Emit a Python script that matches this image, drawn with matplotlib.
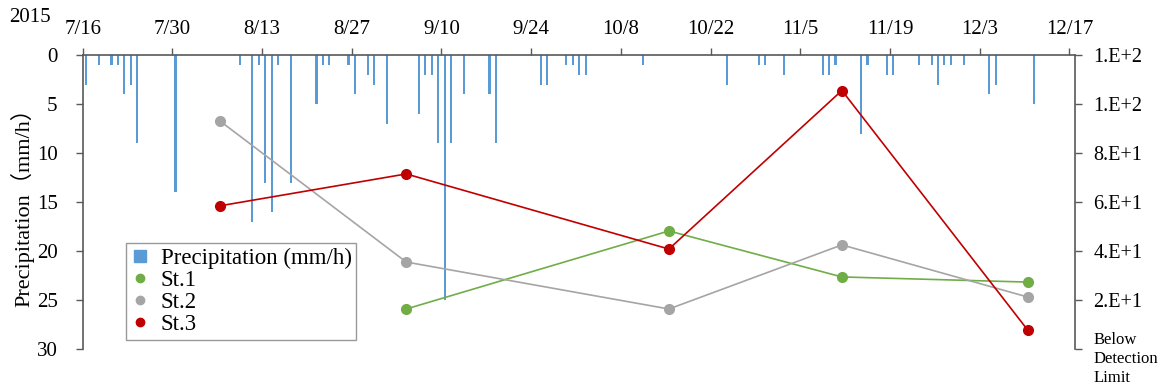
import numpy as np
import pandas as pd
import matplotlib
matplotlib.use("Agg")
import matplotlib.pyplot as plt
import matplotlib.dates as mdates
from matplotlib.ticker import FuncFormatter, MultipleLocator

plt.rcParams['font.family'] = ['Liberation Serif', 'Noto Sans CJK JP']

# precipitation (mm/h), daily
rain_dates = ['2015-07-16', '2015-07-18', '2015-07-20', '2015-07-21', '2015-07-22', '2015-07-23',
              '2015-07-24', '2015-07-30', '2015-08-09', '2015-08-11', '2015-08-12', '2015-08-13',
              '2015-08-14', '2015-08-15', '2015-08-17', '2015-08-21', '2015-08-22', '2015-08-23',
              '2015-08-26', '2015-08-27', '2015-08-29', '2015-08-30', '2015-09-01', '2015-09-06',
              '2015-09-07', '2015-09-08', '2015-09-09', '2015-09-10', '2015-09-11', '2015-09-13',
              '2015-09-17', '2015-09-18', '2015-09-25', '2015-09-26', '2015-09-29', '2015-09-30',
              '2015-10-01', '2015-10-02', '2015-10-11', '2015-10-24', '2015-10-29', '2015-10-30',
              '2015-11-02', '2015-11-08', '2015-11-09', '2015-11-10', '2015-11-14', '2015-11-15',
              '2015-11-18', '2015-11-19', '2015-11-23', '2015-11-25', '2015-11-26', '2015-11-27',
              '2015-11-28', '2015-11-30', '2015-12-04', '2015-12-05', '2015-12-11']
rain_vals = [3, 1, 1, 1, 4, 3,
             9, 14, 1, 17, 1, 13,
             16, 1, 13, 5, 1, 1,
             1, 4, 2, 3, 7, 6,
             2, 2, 9, 25, 9, 4,
             4, 9, 3, 3, 1, 1,
             2, 2, 1, 3, 1, 1,
             2, 2, 2, 1, 8, 1,
             2, 2, 1, 1, 3, 1,
             1, 1, 4, 3, 5]

# station values (right axis)
st_dates = ['2015-08-06', '2015-09-04', '2015-10-15', '2015-11-11', '2015-12-10']
st1 = [np.nan, 16.3, 48.2, 29.4, 27.3]
st2 = [93.0, 35.5, 16.3, 42.5, 21.2]
st3 = [58.5, 71.5, 40.8, 105.6, 7.7]

tick_dates = pd.date_range('2015-07-16', '2015-12-17', freq='14D')

half_day = pd.Timedelta(hours=12)  # excel centres marks inside the day slot
rx = pd.to_datetime(rain_dates) + half_day
sx = pd.to_datetime(st_dates) + half_day

fig = plt.figure(figsize=(11.69, 3.92), dpi=100)
ax = fig.add_axes([0.0707, 0.110, 0.849, 0.749])

ax.bar(rx, rain_vals, width=0.33, color='#5B9BD5', zorder=2)
ax.set_ylim(30, 0)
ax.set_xlim(pd.Timestamp('2015-07-16'), pd.Timestamp('2015-12-17') + pd.Timedelta(days=0.9))
ax.yaxis.set_major_locator(MultipleLocator(5))
ax.set_ylabel('Precipitation（mm/h）', fontsize=16, labelpad=2)

ax.xaxis.tick_top()
ax.set_xticks(tick_dates)
ax.xaxis.set_major_formatter(FuncFormatter(lambda v, p: f"{mdates.num2date(v).month}/{mdates.num2date(v).day}"))
ax.tick_params(axis='x', which='major', labelsize=15, length=5, width=1, color='#595959', pad=7)
ax.tick_params(axis='y', labelsize=15, length=5, width=1, color='#595959', pad=13)
for s in ['bottom', 'right']:
    ax.spines[s].set_visible(False)
for s in ['top', 'left']:
    ax.spines[s].set_color('#595959')
    ax.spines[s].set_linewidth(1.2)

ax2 = ax.twinx()
ax2.plot(sx, st1, color='#70AD47', lw=1.2, marker='o', ms=7, zorder=3)
ax2.plot(sx, st2, color='#A5A5A5', lw=1.2, marker='o', ms=7, zorder=3)
ax2.plot(sx, st3, color='#C00000', lw=1.2, marker='o', ms=7, zorder=3)
ax2.set_ylim(0, 120)
ax2.set_yticks(np.arange(0, 121, 20))


def excel_sci(v, p):
    if v == 0:
        return ''  # drawn separately below, in a smaller font
    m, e = f"{v:.0e}".split('e')
    return f"{m}.E+{int(e)}"


ax2.yaxis.set_major_formatter(FuncFormatter(excel_sci))
ax2.tick_params(axis='y', labelsize=14.5, length=5, width=1, color='#595959', pad=8)
ax2.annotate('Below\nDetection\nLimit', xy=(1, 0), xycoords='axes fraction',
             xytext=(13, -7), textcoords='offset points', fontsize=12,
             ha='left', va='center', linespacing=1.25, annotation_clip=False)
for s in ['bottom', 'top', 'left']:
    ax2.spines[s].set_visible(False)
ax2.spines['right'].set_color('#595959')
ax2.spines['right'].set_linewidth(1.2)

handles = [
    plt.Line2D([], [], ls='none', marker='s', ms=8, color='#5B9BD5'),
    plt.Line2D([], [], ls='none', marker='o', ms=6, color='#70AD47'),
    plt.Line2D([], [], ls='none', marker='o', ms=6, color='#A5A5A5'),
    plt.Line2D([], [], ls='none', marker='o', ms=6, color='#C00000'),
]
leg = ax2.legend(handles, ['Precipitation (mm/h)', 'St.1', 'St.2', 'St.3'],
                 loc='lower left', bbox_to_anchor=(0.044, 0.03), fontsize=16.5,
                 frameon=True, fancybox=False, handlelength=0.8, handletextpad=0.5,
                 labelspacing=0.05, borderpad=0.2, borderaxespad=0)
leg.get_frame().set_edgecolor('#808080')
leg.get_frame().set_linewidth(1.0)

fig.text(0.008, 0.955, '2015', fontsize=15, va='center', ha='left')

fig.savefig('out.png', dpi=100)
